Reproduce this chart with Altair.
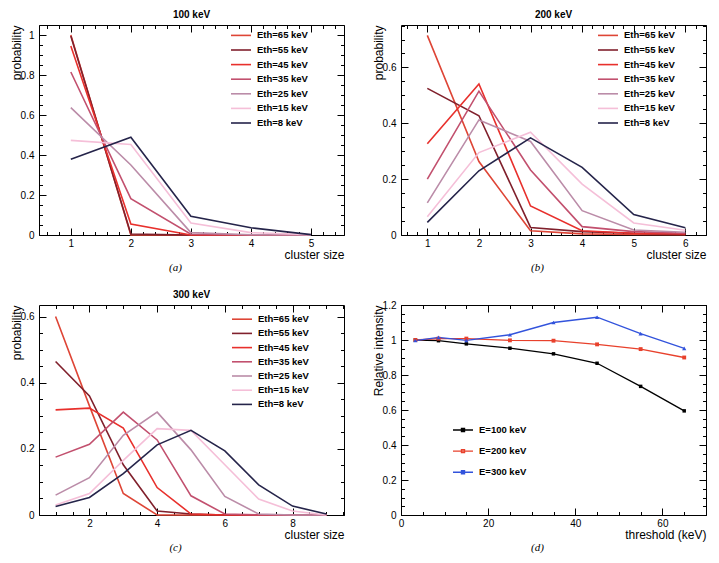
import altair as alt
import pandas as pd

FONT = "Liberation Sans"

# ---------------- data ----------------
eth_labels = ["Eth=65 keV", "Eth=55 keV", "Eth=45 keV", "Eth=35 keV",
              "Eth=25 keV", "Eth=15 keV", "Eth=8 keV"]
eth_colors = ["#de4536", "#80202c", "#e8302c", "#c2506e",
              "#bb8ca8", "#f5bfd8", "#25244a"]

# (a) 100 keV
size_100 = [1, 2, 3, 4, 5]
p100_e65 = [1.000, 0.000, 0.000, 0.000, 0.000]
p100_e55 = [0.995, 0.005, 0.000, 0.000, 0.000]
p100_e45 = [0.945, 0.055, 0.000, 0.000, 0.000]
p100_e35 = [0.815, 0.182, 0.004, 0.000, 0.000]
p100_e25 = [0.637, 0.350, 0.012, 0.001, 0.000]
p100_e15 = [0.473, 0.453, 0.060, 0.012, 0.002]
p100_e8 = [0.379, 0.489, 0.094, 0.036, 0.002]

# (b) 200 keV
size_200 = [1, 2, 3, 4, 5, 6]
p200_e65 = [0.715, 0.263, 0.015, 0.004, 0.002, 0.001]
p200_e55 = [0.525, 0.427, 0.027, 0.012, 0.006, 0.002]
p200_e45 = [0.327, 0.541, 0.104, 0.015, 0.006, 0.004]
p200_e35 = [0.200, 0.515, 0.233, 0.030, 0.012, 0.006]
p200_e25 = [0.115, 0.412, 0.335, 0.087, 0.018, 0.010]
p200_e15 = [0.065, 0.295, 0.368, 0.182, 0.043, 0.017]
p200_e8 = [0.045, 0.230, 0.348, 0.242, 0.073, 0.026]

# (c) 300 keV
size_300 = [1, 2, 3, 4, 5, 6, 7, 8, 9]
p300_e65 = [0.600, 0.330, 0.065, 0.000, 0.000, 0.000, 0.000, 0.000, 0.000]
p300_e55 = [0.464, 0.360, 0.152, 0.012, 0.003, 0.000, 0.000, 0.000, 0.000]
p300_e45 = [0.318, 0.323, 0.263, 0.083, 0.003, 0.000, 0.000, 0.000, 0.000]
p300_e35 = [0.175, 0.214, 0.311, 0.227, 0.058, 0.003, 0.000, 0.000, 0.000]
p300_e25 = [0.060, 0.113, 0.241, 0.311, 0.197, 0.056, 0.003, 0.000, 0.000]
p300_e15 = [0.030, 0.065, 0.165, 0.261, 0.256, 0.152, 0.048, 0.012, 0.000]
p300_e8 = [0.026, 0.053, 0.125, 0.212, 0.256, 0.194, 0.091, 0.027, 0.003]

# (d) relative intensity vs threshold
energy_labels = ["E=100 keV", "E=200 keV", "E=300 keV"]
energy_colors = ["#000000", "#e8412c", "#3253dc"]
energy_shapes = ["square", "square", "triangle-up"]
thresholds = [3.3, 8.6, 15, 25, 35, 45, 55, 65]
rel_100 = [1.000, 0.996, 0.978, 0.953, 0.921, 0.867, 0.735, 0.595]
rel_200 = [1.000, 1.008, 1.008, 0.998, 0.996, 0.975, 0.948, 0.900]
rel_300 = [0.997, 1.015, 0.998, 1.030, 1.100, 1.130, 1.036, 0.952]

# tick labels
ticks_x_a = [1, 2, 3, 4, 5]
ticks_x_b = [1, 2, 3, 4, 5, 6]
ticks_x_c = [2, 4, 6, 8]
ticks_x_d = [0, 20, 40, 60]
ticks_y_a = [0, 0.2, 0.4, 0.6, 0.8, 1.0]
ticks_y_bc = [0, 0.2, 0.4, 0.6]
ticks_y_d = [0, 0.2, 0.4, 0.6, 0.8, 1.0, 1.2]


def long_frame(sizes, series):
    rows = []
    for lab, vals in zip(eth_labels, series):
        for s, v in zip(sizes, vals):
            rows.append({"size": s, "prob": v, "eth": lab})
    return pd.DataFrame(rows)


df_a = long_frame(size_100, [p100_e65, p100_e55, p100_e45, p100_e35, p100_e25, p100_e15, p100_e8])
df_b = long_frame(size_200, [p200_e65, p200_e55, p200_e45, p200_e35, p200_e25, p200_e15, p200_e8])
df_c = long_frame(size_300, [p300_e65, p300_e55, p300_e45, p300_e35, p300_e25, p300_e15, p300_e8])

rows_d = []
for lab, vals in zip(energy_labels, [rel_100, rel_200, rel_300]):
    for t, v in zip(thresholds, vals):
        rows_d.append({"thr": t, "rel": v, "energy": lab})
df_d = pd.DataFrame(rows_d)

# ---------------- layout ----------------
W, H = 305, 210
MAJ, MIN = 7, 3.5


def steps(lo, hi, step):
    n = int(round((hi - lo) / step))
    return [round(lo + i * step, 4) for i in range(n + 1)]


def axis(orient, values, size, **kw):
    base = dict(orient=orient, values=values, tickCount=500, tickSize=size, offset=-size,
                domain=False, grid=False, minExtent=0, labels=False, title="",
                tickColor="black", tickWidth=1, labelOverlap=False)
    base.update(kw)
    return alt.Axis(**base)


def xmain(values, title):
    return axis("bottom", values, MAJ, labels=True, labelPadding=3, format="~r",
                labelFlush=False, labelFont=FONT, labelFontSize=10,
                labelColor="black", title=title, titleX=W, titleY=30,
                titleAlign="right", titleBaseline="alphabetic", titleFont=FONT,
                titleFontSize=12, titleFontWeight="normal", titleColor="black")


def ymain(values, title):
    return axis("left", values, MAJ, labels=True, labelPadding=5, format="~r",
                labelFlush=False, labelFont=FONT, labelFontSize=10,
                labelColor="black", title=title, titleX=-26, titleY=0,
                titleAngle=270, titleAlign="right", titleBaseline="alphabetic",
                titleFont=FONT, titleFontSize=12, titleFontWeight="normal",
                titleColor="black")


def frame_layers(df, xf, yf, xdom, ydom, xmaj, xstep, ymaj, ystep):
    xs = alt.Scale(domain=xdom, nice=False, zero=False)
    ys = alt.Scale(domain=ydom, nice=False, zero=False)
    xminor = [v for v in steps(0, xdom[1], xstep) if xdom[0] <= v <= xdom[1]]
    yminor = [v for v in steps(0, ydom[1], ystep) if ydom[0] <= v <= ydom[1]]
    specs = [
        (axis("bottom", xminor, MIN), axis("left", yminor, MIN)),
        (axis("top", xmaj, MAJ), axis("right", ymaj, MAJ)),
        (axis("top", xminor, MIN), axis("right", yminor, MIN)),
    ]
    out = []
    for ax_x, ax_y in specs:
        out.append(
            alt.Chart(df).mark_line(strokeOpacity=0).encode(
                x=alt.X(f"{xf}:Q", scale=xs, axis=ax_x),
                y=alt.Y(f"{yf}:Q", scale=ys, axis=ax_y),
            )
        )
    return out


def caption(text):
    return alt.Chart(pd.DataFrame({"c": [text]})).mark_text(
        font="Liberation Serif", fontStyle="italic", fontSize=11,
        align="center", baseline="middle", color="black"
    ).encode(text="c:N", x=alt.value(W / 2 - 16), y=alt.value(H + 33))


def cluster_panel(df, xdom, ydom, xmaj, ymaj, xstep, title, cap, lx, ly, rowpad):
    xs = alt.Scale(domain=xdom, nice=False, zero=False)
    ys = alt.Scale(domain=ydom, nice=False, zero=False)
    lines = alt.Chart(df).mark_line(strokeWidth=1.6).encode(
        x=alt.X("size:Q", scale=xs, axis=xmain(xmaj, "cluster size")),
        y=alt.Y("prob:Q", scale=ys, axis=ymain(ymaj, "probability")),
        color=alt.Color(
            "eth:N",
            scale=alt.Scale(domain=eth_labels, range=eth_colors),
            sort=eth_labels,
            legend=alt.Legend(
                title=None, orient="none", legendX=lx, legendY=ly,
                symbolType="M-3,0L1,0", symbolSize=100, symbolStrokeWidth=1.6,
                labelFont=FONT, labelFontSize=9.5, labelFontWeight="bold",
                labelColor="black", labelOffset=5, rowPadding=rowpad, padding=0,
                labelLimit=200,
            ),
        ),
    )
    layers = [lines] + frame_layers(df, "size", "prob", xdom, ydom, xmaj, xstep, ymaj, 0.05) + [caption(cap)]
    return alt.layer(*layers).resolve_scale(x="independent", y="independent").properties(
        width=W, height=H,
        title=alt.Title(title, font=FONT, fontSize=10, fontWeight="bold", anchor="middle",
                        frame="group", offset=-3, baseline="alphabetic", color="black"),
    )


pa = cluster_panel(df_a, [0.47, 5.55], [0, 1.05], ticks_x_a, ticks_y_a, 0.2,
                   "100 keV", "(a)", 201, 4.4, 3.6)
pb = cluster_panel(df_b, [0.49, 6.4], [0, 0.752], ticks_x_b, ticks_y_bc, 0.2,
                   "200 keV", "(b)", 206, 4.4, 3.6)
pc = cluster_panel(df_c, [0.51, 9.52], [0, 0.635], ticks_x_c, ticks_y_bc, 0.5,
                   "300 keV", "(c)", 202, 8.2, 3.2)

# (d)
xs_d = alt.Scale(domain=[0, 70], nice=False, zero=False)
ys_d = alt.Scale(domain=[0, 1.2], nice=False, zero=False)
d_lines = alt.Chart(df_d).mark_line(strokeWidth=1.3).encode(
    x=alt.X("thr:Q", scale=xs_d, axis=xmain(ticks_x_d, "threshold (keV)")),
    y=alt.Y("rel:Q", scale=ys_d, axis=ymain(ticks_y_d, "Relative intensity")),
    color=alt.Color(
        "energy:N",
        scale=alt.Scale(domain=energy_labels, range=energy_colors),
        legend=alt.Legend(
            title=None, orient="none", legendX=61, legendY=119,
            symbolType="M-3,0L1,0M-1.3,-0.3L-0.7,-0.3L-0.7,0.3L-1.3,0.3Z",
            symbolSize=100, symbolStrokeWidth=1.4,
            labelFont=FONT, labelFontSize=9.5, labelFontWeight="bold",
            labelColor="black", labelOffset=5, rowPadding=10.1, padding=0,
            labelLimit=200,
        ),
    ),
)
d_points = alt.Chart(df_d).mark_point(filled=True, opacity=1).encode(
    x=alt.X("thr:Q", scale=xs_d),
    y=alt.Y("rel:Q", scale=ys_d),
    fill=alt.Fill("energy:N", scale=alt.Scale(domain=energy_labels, range=energy_colors), legend=None),
    shape=alt.Shape("energy:N", scale=alt.Scale(domain=energy_labels, range=energy_shapes), legend=None),
    size=alt.Size("energy:N", scale=alt.Scale(domain=energy_labels, range=[12, 18, 12]), legend=None),
)
d_data = alt.layer(d_lines, d_points)
pd_ = alt.layer(
    d_data,
    *frame_layers(df_d, "thr", "rel", [0, 70], [0, 1.2], ticks_x_d, 5, ticks_y_d, 0.05),
    caption("(d)"),
).resolve_scale(x="independent", y="independent").properties(width=W, height=H)

chart = alt.concat(
    pa, pb, pc, pd_, columns=2, bounds="flush",
    spacing={"row": 70, "column": 57},
).resolve_scale(
    color="independent"
).configure_view(stroke="black", strokeWidth=1).configure_axis(
    grid=False, domain=False, labelOverlap=False
).properties(padding=1, background="white")

chart.save("out.html", embed_options={"renderer": "svg", "actions": False})
